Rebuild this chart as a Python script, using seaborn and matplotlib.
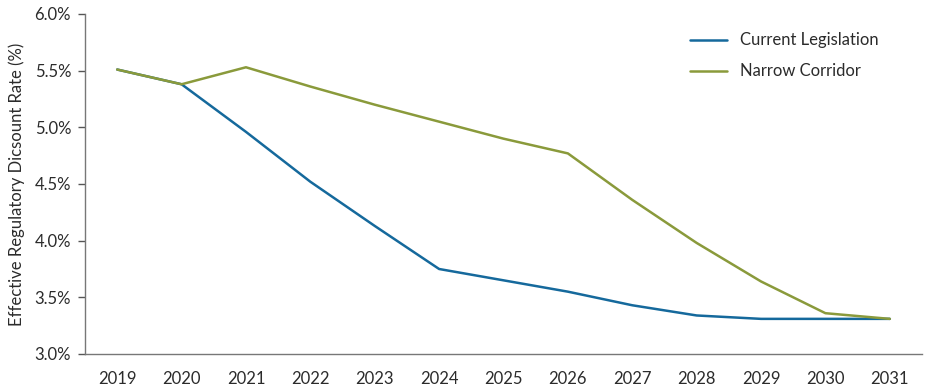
import numpy as np
import pandas as pd
import matplotlib
matplotlib.use("Agg")
import matplotlib.pyplot as plt
import seaborn as sns
from matplotlib.ticker import FuncFormatter, FixedLocator

sns.set_style("white")
plt.rcParams['font.family'] = ['Lato', 'DejaVu Sans']

years = ['2019', '2020', '2021', '2022', '2023', '2024', '2025',
         '2026', '2027', '2028', '2029', '2030', '2031']
current_legislation = [5.51, 5.38, 4.96, 4.52, 4.13, 3.75, 3.65, 3.55, 3.43, 3.34, 3.31, 3.31, 3.31]
narrow_corridor = [5.51, 5.38, 5.53, 5.36, 5.20, 5.05, 4.90, 4.77, 4.36, 3.98, 3.64, 3.36, 3.31]

df = pd.DataFrame({
    'Year': years * 2,
    'Rate': current_legislation + narrow_corridor,
    'Scenario': ['Current Legislation'] * len(years) + ['Narrow Corridor'] * len(years),
})

palette = {'Current Legislation': '#15699C', 'Narrow Corridor': '#8A9A3B'}

fig = plt.figure(figsize=(9.31, 3.85), dpi=100)
ax = fig.add_axes([85 / 931, 1 - 354 / 385, (922 - 85) / 931, (354 - 14) / 385])
sns.lineplot(data=df, x='Year', y='Rate', hue='Scenario', palette=palette,
             linewidth=1.8, ax=ax, sort=False)

ax.set_xlim(-0.5, len(years) - 0.5)
ax.set_ylim(3.0, 6.0)
ax.set_yticks(np.arange(3.0, 6.01, 0.5))
ax.yaxis.set_major_formatter(FuncFormatter(lambda v, p: '{:.1f}%'.format(v)))

ax.set_xticks(range(len(years)))
ax.set_xticklabels(years)
ax.xaxis.set_minor_locator(FixedLocator(np.arange(-0.5, len(years), 1.0)))
ax.tick_params(axis='x', which='major', length=0, pad=12, labelsize=12, colors='#2b2b2b')
ax.tick_params(axis='x', which='minor', length=5, width=1, color='#555555', direction='out')
ax.tick_params(axis='y', which='major', length=5, width=1, color='#555555', direction='out',
               left=True, labelsize=12, labelcolor='#2b2b2b', pad=5)

for side in ['top', 'right']:
    ax.spines[side].set_visible(False)
for side in ['left', 'bottom']:
    ax.spines[side].set_color('#777777')
    ax.spines[side].set_linewidth(1)

ax.set_xlabel('')
ax.set_ylabel('Effective Regulatory Dicsount Rate (%)', fontsize=12, color='#2b2b2b', labelpad=7)
ax.grid(False)

ax.legend(loc='upper left', bbox_to_anchor=(0.705, 0.99), frameon=False, fontsize=12,
          handlelength=2.2, labelspacing=0.9, labelcolor='#2b2b2b')

plt.savefig('out.png', dpi=100)
